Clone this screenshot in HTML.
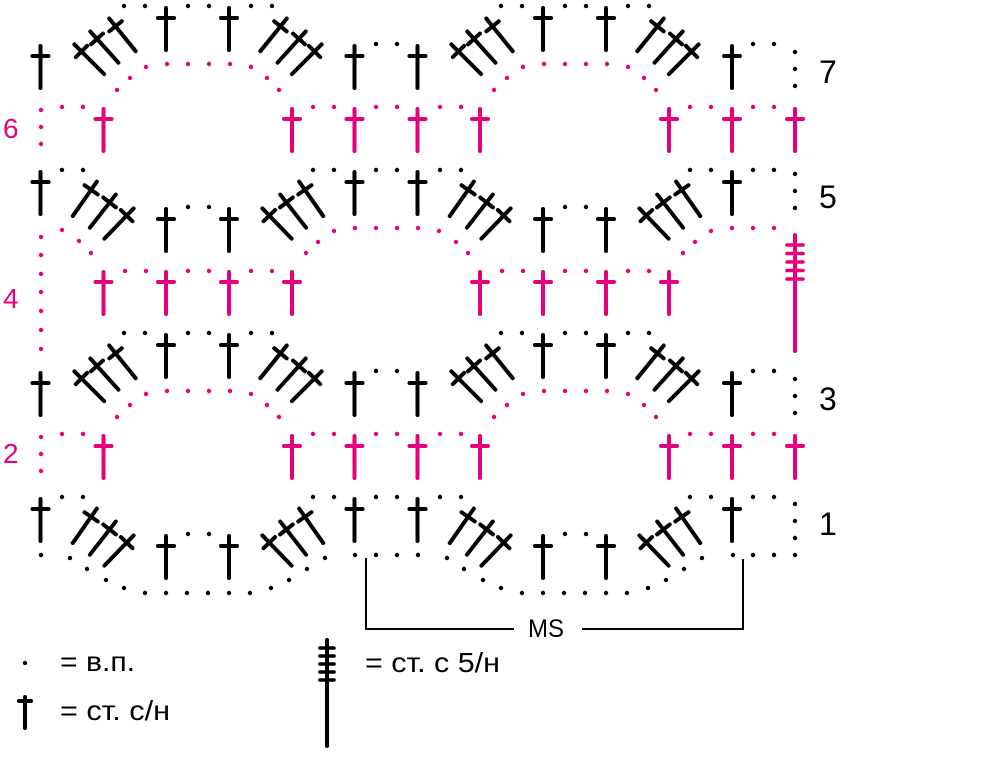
<!DOCTYPE html>
<html><head><meta charset="utf-8"><style>
html,body{margin:0;padding:0;background:#fff;}
svg{display:block;}
text{font-family:"Liberation Sans","DejaVu Sans",sans-serif;}
</style></head><body>
<svg width="1000" height="774" viewBox="0 0 1000 774" xmlns="http://www.w3.org/2000/svg">
<defs>
<g id="dc"><line x1="0" y1="2" x2="0" y2="44"/><line x1="-8" y1="12" x2="8" y2="12"/></g>

<!-- Row 7 (arch up) -->
<g id="r7">
 <g stroke="#000" stroke-width="4" stroke-linecap="round" fill="none">
  <use href="#dc" x="40.5" y="44"/>
  <use href="#dc" x="354.5" y="44"/>
  <use href="#dc" x="417.5" y="44"/>
  <use href="#dc" x="732" y="44"/>
  <use href="#dc" x="166" y="6"/>
  <use href="#dc" x="229" y="6"/>
  <use href="#dc" x="543" y="6"/>
  <use href="#dc" x="606" y="6"/>
  <use href="#dc" transform="translate(73,43) rotate(-45)"/>
  <use href="#dc" transform="translate(89,30) rotate(-42)"/>
  <use href="#dc" transform="translate(108,17) rotate(-39)"/>
  <use href="#dc" transform="translate(323,43) rotate(45)"/>
  <use href="#dc" transform="translate(307,30) rotate(42)"/>
  <use href="#dc" transform="translate(288,17) rotate(39)"/>
  <use href="#dc" transform="translate(450,43) rotate(-45)"/>
  <use href="#dc" transform="translate(466,30) rotate(-42)"/>
  <use href="#dc" transform="translate(485,17) rotate(-39)"/>
  <use href="#dc" transform="translate(700,43) rotate(45)"/>
  <use href="#dc" transform="translate(684,30) rotate(42)"/>
  <use href="#dc" transform="translate(665,17) rotate(39)"/>
 </g>
 <g fill="#000">
  <circle cx="124" cy="6" r="2.2"/><circle cx="145" cy="6" r="2.2"/>
  <circle cx="188" cy="6" r="2.2"/><circle cx="209" cy="6" r="2.2"/>
  <circle cx="251" cy="6" r="2.2"/><circle cx="272" cy="6" r="2.2"/>
  <circle cx="501" cy="6" r="2.2"/><circle cx="522" cy="6" r="2.2"/>
  <circle cx="565" cy="6" r="2.2"/><circle cx="586" cy="6" r="2.2"/>
  <circle cx="628" cy="6" r="2.2"/><circle cx="649" cy="6" r="2.2"/>
  <circle cx="376" cy="44" r="2.2"/><circle cx="397" cy="44" r="2.2"/>
  <circle cx="753" cy="44" r="2.2"/><circle cx="774" cy="44" r="2.2"/>
  <circle cx="795" cy="52" r="2.2"/><circle cx="795" cy="69" r="2.2"/><circle cx="795" cy="86" r="2.2"/>
 </g>
</g>

<!-- Row 5 (U shape) -->
<g id="r5">
 <g stroke="#000" stroke-width="4" stroke-linecap="round" fill="none">
  <use href="#dc" x="40.5" y="170"/>
  <use href="#dc" x="354.5" y="170"/>
  <use href="#dc" x="417.5" y="170"/>
  <use href="#dc" x="732" y="170"/>
  <use href="#dc" x="166" y="207"/>
  <use href="#dc" x="229" y="207"/>
  <use href="#dc" x="543" y="207"/>
  <use href="#dc" x="606" y="207"/>
  <use href="#dc" transform="translate(98,180) rotate(35)"/>
  <use href="#dc" transform="translate(117,193) rotate(38)"/>
  <use href="#dc" transform="translate(135,207) rotate(44)"/>
  <use href="#dc" transform="translate(298,180) rotate(-35)"/>
  <use href="#dc" transform="translate(279,193) rotate(-38)"/>
  <use href="#dc" transform="translate(261,207) rotate(-44)"/>
  <use href="#dc" transform="translate(475,180) rotate(35)"/>
  <use href="#dc" transform="translate(494,193) rotate(38)"/>
  <use href="#dc" transform="translate(512,207) rotate(44)"/>
  <use href="#dc" transform="translate(675,180) rotate(-35)"/>
  <use href="#dc" transform="translate(656,193) rotate(-38)"/>
  <use href="#dc" transform="translate(638,207) rotate(-44)"/>
 </g>
 <g fill="#000">
  <circle cx="62" cy="170" r="2.2"/><circle cx="83" cy="170" r="2.2"/>
  <circle cx="313" cy="170" r="2.2"/><circle cx="334" cy="170" r="2.2"/>
  <circle cx="376" cy="170" r="2.2"/><circle cx="397" cy="170" r="2.2"/>
  <circle cx="440" cy="170" r="2.2"/><circle cx="461" cy="170" r="2.2"/>
  <circle cx="690" cy="170" r="2.2"/><circle cx="711" cy="170" r="2.2"/>
  <circle cx="753" cy="170" r="2.2"/><circle cx="774" cy="170" r="2.2"/>
  <circle cx="188" cy="207" r="2.2"/><circle cx="209" cy="207" r="2.2"/>
  <circle cx="565" cy="207" r="2.2"/><circle cx="586" cy="207" r="2.2"/>
 </g>
</g>

<!-- Row 6 (pink) -->
<g id="r6">
 <g stroke="#e5007d" stroke-width="4" stroke-linecap="round" fill="none">
  <use href="#dc" x="103.5" y="107"/>
  <use href="#dc" x="292" y="107"/>
  <use href="#dc" x="354.5" y="107"/>
  <use href="#dc" x="417.5" y="107"/>
  <use href="#dc" x="480" y="107"/>
  <use href="#dc" x="669" y="107"/>
  <use href="#dc" x="732" y="107"/>
  <use href="#dc" x="795" y="107"/>
 </g>
 <g fill="#e5007d">
  <circle cx="41" cy="110" r="2.2"/><circle cx="41" cy="127" r="2.2"/><circle cx="41" cy="144" r="2.2"/>
  <circle cx="62" cy="107" r="2.2"/><circle cx="83" cy="107" r="2.2"/>
  <circle cx="313" cy="107" r="2.2"/><circle cx="334" cy="107" r="2.2"/>
  <circle cx="376" cy="107" r="2.2"/><circle cx="397" cy="107" r="2.2"/>
  <circle cx="440" cy="107" r="2.2"/><circle cx="461" cy="107" r="2.2"/>
  <circle cx="690" cy="107" r="2.2"/><circle cx="711" cy="107" r="2.2"/>
  <circle cx="753" cy="107" r="2.2"/><circle cx="774" cy="107" r="2.2"/>
  <circle cx="117" cy="90" r="2.2"/><circle cx="130" cy="78" r="2.2"/><circle cx="146" cy="67" r="2.2"/>
  <circle cx="167" cy="64" r="2.2"/><circle cx="188" cy="64" r="2.2"/><circle cx="209" cy="64" r="2.2"/><circle cx="230" cy="64" r="2.2"/>
  <circle cx="251" cy="67" r="2.2"/><circle cx="267" cy="78" r="2.2"/><circle cx="279" cy="90" r="2.2"/>
  <circle cx="494" cy="90" r="2.2"/><circle cx="507" cy="78" r="2.2"/><circle cx="523" cy="67" r="2.2"/>
  <circle cx="544" cy="64" r="2.2"/><circle cx="565" cy="64" r="2.2"/><circle cx="586" cy="64" r="2.2"/><circle cx="607" cy="64" r="2.2"/>
  <circle cx="628" cy="67" r="2.2"/><circle cx="644" cy="78" r="2.2"/><circle cx="656" cy="90" r="2.2"/>
 </g>
</g>
</defs>

<use href="#r7"/>
<use href="#r7" y="327"/>
<use href="#r5"/>
<use href="#r5" y="327"/>
<use href="#r6"/>
<use href="#r6" y="327"/>

<!-- Row 5 right vertical dots -->
<g fill="#000">
 <circle cx="795" cy="174" r="2.2"/><circle cx="795" cy="191" r="2.2"/><circle cx="795" cy="208" r="2.2"/>
</g>

<!-- Row 1 extras -->
<g fill="#000">
 <circle cx="795" cy="504" r="2.2"/><circle cx="795" cy="521" r="2.2"/><circle cx="795" cy="538" r="2.2"/><circle cx="795" cy="555" r="2.2"/>
 <circle cx="41" cy="555" r="2.2"/>
 <circle cx="70" cy="558" r="2.2"/><circle cx="87" cy="569" r="2.2"/><circle cx="106" cy="580" r="2.2"/><circle cx="124" cy="588" r="2.2"/>
 <circle cx="145" cy="593" r="2.2"/><circle cx="166" cy="593" r="2.2"/><circle cx="187" cy="593" r="2.2"/><circle cx="208" cy="593" r="2.2"/><circle cx="229" cy="593" r="2.2"/><circle cx="250" cy="593" r="2.2"/>
 <circle cx="271" cy="588" r="2.2"/><circle cx="289" cy="580" r="2.2"/><circle cx="307" cy="569" r="2.2"/><circle cx="325" cy="558" r="2.2"/>
 <circle cx="355" cy="555" r="2.2"/><circle cx="376" cy="555" r="2.2"/><circle cx="397" cy="555" r="2.2"/><circle cx="418" cy="555" r="2.2"/>
 <circle cx="447" cy="558" r="2.2"/><circle cx="464" cy="569" r="2.2"/><circle cx="483" cy="580" r="2.2"/><circle cx="501" cy="588" r="2.2"/>
 <circle cx="522" cy="593" r="2.2"/><circle cx="543" cy="593" r="2.2"/><circle cx="564" cy="593" r="2.2"/><circle cx="585" cy="593" r="2.2"/><circle cx="606" cy="593" r="2.2"/><circle cx="627" cy="593" r="2.2"/>
 <circle cx="648" cy="588" r="2.2"/><circle cx="666" cy="580" r="2.2"/><circle cx="684" cy="569" r="2.2"/><circle cx="702" cy="558" r="2.2"/>
 <circle cx="733" cy="555" r="2.2"/><circle cx="753" cy="555" r="2.2"/><circle cx="774" cy="555" r="2.2"/>
</g>

<!-- Row 4 (pink) -->
<g stroke="#e5007d" stroke-width="4" stroke-linecap="round" fill="none">
 <use href="#dc" x="103.5" y="270"/>
 <use href="#dc" x="166" y="270"/>
 <use href="#dc" x="229" y="270"/>
 <use href="#dc" x="292" y="270"/>
 <use href="#dc" x="480" y="270"/>
 <use href="#dc" x="543" y="270"/>
 <use href="#dc" x="606" y="270"/>
 <use href="#dc" x="669" y="270"/>
 <line x1="795" y1="235" x2="795" y2="351"/>
</g>
<g stroke="#e5007d" stroke-width="3.6" stroke-linecap="round">
 <line x1="787" y1="245" x2="803" y2="245"/>
 <line x1="787" y1="253.5" x2="803" y2="253.5"/>
 <line x1="787" y1="262" x2="803" y2="262"/>
 <line x1="787" y1="270.5" x2="803" y2="270.5"/>
 <line x1="787" y1="279" x2="803" y2="279"/>
</g>
<g fill="#e5007d">
 <circle cx="41" cy="237" r="2.2"/><circle cx="41" cy="255" r="2.2"/><circle cx="41" cy="274" r="2.2"/><circle cx="41" cy="292" r="2.2"/><circle cx="41" cy="311" r="2.2"/><circle cx="41" cy="330" r="2.2"/><circle cx="41" cy="349" r="2.2"/>
 <circle cx="62" cy="230" r="2.2"/><circle cx="79" cy="241" r="2.2"/><circle cx="91" cy="253" r="2.2"/>
 <circle cx="125" cy="271" r="2.2"/><circle cx="146" cy="271" r="2.2"/><circle cx="188" cy="271" r="2.2"/><circle cx="209" cy="271" r="2.2"/><circle cx="251" cy="271" r="2.2"/><circle cx="272" cy="271" r="2.2"/>
 <circle cx="306" cy="253" r="2.2"/><circle cx="318" cy="242" r="2.2"/><circle cx="334" cy="231" r="2.2"/>
 <circle cx="355" cy="228" r="2.2"/><circle cx="376" cy="228" r="2.2"/><circle cx="397" cy="228" r="2.2"/><circle cx="418" cy="228" r="2.2"/>
 <circle cx="439" cy="231" r="2.2"/><circle cx="456" cy="242" r="2.2"/><circle cx="468" cy="253" r="2.2"/>
 <circle cx="502" cy="271" r="2.2"/><circle cx="523" cy="271" r="2.2"/><circle cx="565" cy="271" r="2.2"/><circle cx="586" cy="271" r="2.2"/><circle cx="628" cy="271" r="2.2"/><circle cx="649" cy="271" r="2.2"/>
 <circle cx="683" cy="253" r="2.2"/><circle cx="695" cy="242" r="2.2"/><circle cx="711" cy="231" r="2.2"/>
 <circle cx="732" cy="228" r="2.2"/><circle cx="753" cy="228" r="2.2"/><circle cx="774" cy="228" r="2.2"/>
</g>

<!-- Row numbers -->
<g fill="#000" font-size="32">
 <text x="819" y="83">7</text>
 <text x="819" y="208">5</text>
 <text x="819" y="410">3</text>
 <text x="819" y="535">1</text>
</g>
<g fill="#e5007d" font-size="28">
 <text x="3" y="138">6</text>
 <text x="3" y="308">4</text>
 <text x="3" y="463">2</text>
</g>

<!-- MS bracket -->
<g stroke="#000" stroke-width="2" fill="none">
 <path d="M366,558 V629 H514"/>
 <path d="M582,629 H743 V559"/>
</g>
<text x="546" y="637" font-size="25" text-anchor="middle" fill="#000" textLength="36" lengthAdjust="spacingAndGlyphs">MS</text>

<!-- Legend -->
<circle cx="25" cy="663" r="2.2" fill="#000"/>
<text x="60" y="671" font-size="28" fill="#000" textLength="75" lengthAdjust="spacingAndGlyphs">= в.п.</text>
<g stroke="#000" stroke-width="4" stroke-linecap="round">
 <line x1="25" y1="697" x2="25" y2="728"/>
 <line x1="19" y1="701" x2="31" y2="701"/>
 <line x1="327" y1="640" x2="327" y2="746"/>
</g>
<g stroke="#000" stroke-width="3.6" stroke-linecap="round">
 <line x1="320" y1="648" x2="334" y2="648"/>
 <line x1="320" y1="656" x2="334" y2="656"/>
 <line x1="320" y1="664" x2="334" y2="664"/>
 <line x1="320" y1="672" x2="334" y2="672"/>
 <line x1="320" y1="680" x2="334" y2="680"/>
</g>
<text x="60" y="720" font-size="28" fill="#000" textLength="110" lengthAdjust="spacingAndGlyphs">= ст. с/н</text>
<text x="365" y="672" font-size="28" fill="#000" textLength="135" lengthAdjust="spacingAndGlyphs">= ст. с 5/н</text>
</svg>
</body></html>
